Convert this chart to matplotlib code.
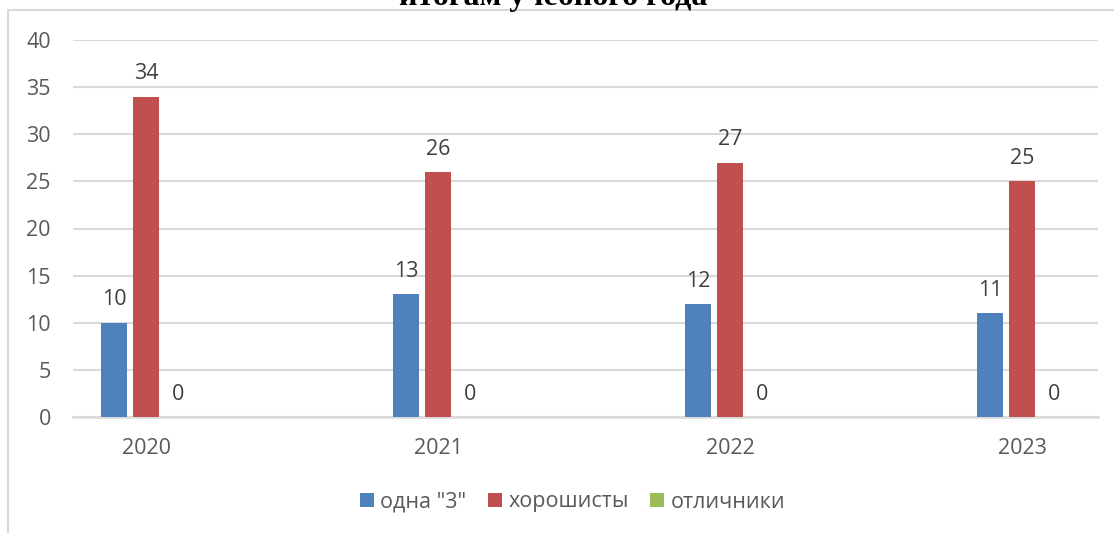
import matplotlib.pyplot as plt
from matplotlib.patches import Rectangle
import numpy as np

# data
years = ["2020", "2021", "2022", "2023"]
series_names = ['одна "3"', "хорошисты", "отличники"]
odna_3 = [10, 13, 12, 11]
horoshisty = [34, 26, 27, 25]
otlichniki = [0, 0, 0, 0]
colors = ["#4f81bd", "#c0504d", "#9bbb59"]

plt.rcParams['font.family'] = ['Open Sans', 'DejaVu Sans']
txt = "#595959"
grid = "#d9d9d9"
fs = 15.5

fig = plt.figure(figsize=(11.14, 5.33), dpi=100)
ax = fig.add_axes([73/1114, 116/533, 1025/1114, 377/533])

x = np.arange(len(years))
w = 0.091
offs = [-0.11, 0.0, 0.11]
for vals, name, c, o in zip([odna_3, horoshisty, otlichniki], series_names, colors, offs):
    bars = ax.bar(x + o, vals, w, color=c, label=name, zorder=3)
    for b, v in zip(bars, vals):
        ax.text(b.get_x() + b.get_width()/2, v + 1.3, str(v), ha='center', va='bottom',
                fontsize=fs, color="#404040")

ax.set_xlim(-0.25, 3.26)
ax.set_ylim(0, 40)
ax.set_yticks(range(0, 41, 5))
ax.set_xticks(x)
ax.set_xticklabels(years)
ax.grid(axis='y', color=grid, lw=1.5, zorder=0)
for s in ['top', 'right', 'left']:
    ax.spines[s].set_visible(False)
ax.spines['bottom'].set_color(grid)
ax.spines['bottom'].set_linewidth(1.8)
ax.tick_params(axis='both', length=0, labelsize=fs, colors=txt)
ax.tick_params(axis='y', pad=16)
ax.tick_params(axis='x', pad=15)

leg = fig.legend(loc='center', bbox_to_anchor=(0.514, 1 - 502/533), ncol=3, frameon=False,
                 fontsize=fs, handlelength=0.65, handleheight=0.65, handletextpad=0.3,
                 columnspacing=1.0)
for t in leg.get_texts():
    t.set_color(txt)

# chart border, cut by the image edges
fig.add_artist(Rectangle((8/1114, -0.1), 1.2, (533 - 10)/533 + 0.1, transform=fig.transFigure,
                         fill=False, edgecolor=grid, lw=1.5))

# title, top part cut off
fig.text(0.497, 1 - 5/533, "итогам учебного года", ha='center', va='baseline',
         family='Liberation Serif', fontweight='bold', fontsize=23, color='black')

fig.savefig("out.png", dpi=100)
